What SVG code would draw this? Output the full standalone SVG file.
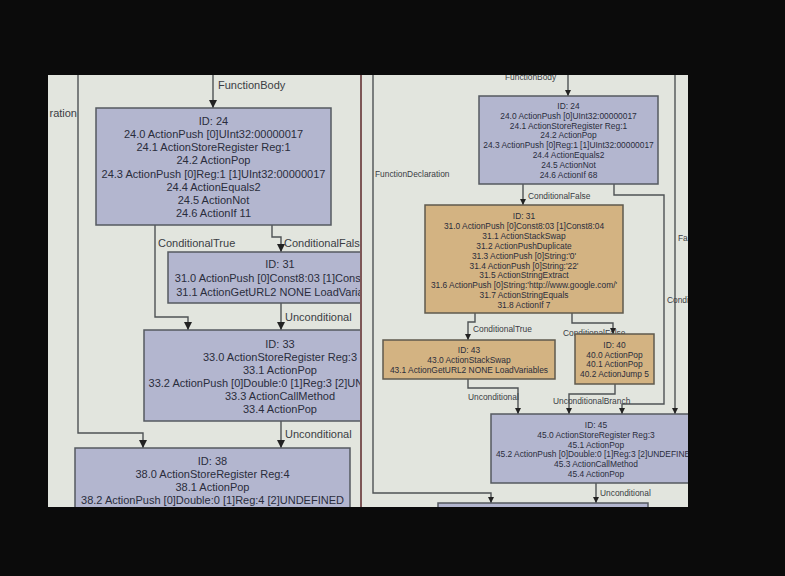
<svg xmlns="http://www.w3.org/2000/svg" width="785" height="576" viewBox="0 0 785 576">
<defs>
<style>
.bg{fill:#0b0b0b}
.scr{fill:#e2e5de}
.nb{fill:#b3b6cf;stroke:#555a60;stroke-width:1.5}
.nt{fill:#d3b382;stroke:#5f5a4e;stroke-width:1.5}
.e{fill:none;stroke:#4f5355;stroke-width:1.4}
.tL{font-family:"Liberation Sans",Arial,sans-serif;font-size:11px;fill:#2a2d3c;text-anchor:middle}
.tR{font-family:"Liberation Sans",Arial,sans-serif;font-size:8.4px;fill:#2a2d3c;text-anchor:middle}
.lL{font-family:"Liberation Sans",Arial,sans-serif;font-size:11px;fill:#3a3d44}
.lR{font-family:"Liberation Sans",Arial,sans-serif;font-size:8.4px;fill:#3a3d44}
</style>
<marker id="aL" viewBox="0 0 10 10" refX="10" refY="5" markerWidth="9" markerHeight="8" markerUnits="userSpaceOnUse" orient="auto"><path d="M0,0 L10,5 L0,10 z" fill="#222"/></marker>
<marker id="aR" viewBox="0 0 10 10" refX="10" refY="5" markerWidth="7" markerHeight="6" markerUnits="userSpaceOnUse" orient="auto"><path d="M0,0 L10,5 L0,10 z" fill="#222"/></marker>
<clipPath id="cL"><rect x="48" y="75" width="312" height="432"/></clipPath>
<clipPath id="cR"><rect x="362" y="75" width="326" height="432"/></clipPath>
</defs>
<rect class="bg" x="0" y="0" width="785" height="576"/>
<rect class="scr" x="48" y="75" width="640" height="432"/>

<g id="left-panel" clip-path="url(#cL)">
<g id="edges-left">
<path class="e" d="M213,75 V108" marker-end="url(#aL)"/>
<text class="lL" x="218" y="89">FunctionBody</text>
<path class="e" d="M155,225 V317 H188 V330" marker-end="url(#aL)"/>
<text class="lL" x="158" y="247">ConditionalTrue</text>
<path class="e" d="M272,225 V237 H281 V252" marker-end="url(#aL)"/>
<text class="lL" x="284" y="247">ConditionalFalse</text>
<path class="e" d="M281,303 V330" marker-end="url(#aL)"/>
<text class="lL" x="285" y="321">Unconditional</text>
<path class="e" d="M281,421 V448" marker-end="url(#aL)"/>
<text class="lL" x="285" y="438">Unconditional</text>
<path class="e" d="M78,75 V433 H143 V448" marker-end="url(#aL)"/>
<text class="lL" x="77" y="117" text-anchor="end">ration</text>
</g>
<g id="L24">
<rect class="nb" x="96" y="108" width="235" height="117"/>
<text class="tL" x="213.5" y="125">ID: 24</text>
<text class="tL" x="213.5" y="138.1">24.0 ActionPush [0]UInt32:00000017</text>
<text class="tL" x="213.5" y="151.3">24.1 ActionStoreRegister Reg:1</text>
<text class="tL" x="213.5" y="164.4">24.2 ActionPop</text>
<text class="tL" x="213.5" y="177.6">24.3 ActionPush [0]Reg:1 [1]UInt32:00000017</text>
<text class="tL" x="213.5" y="190.7">24.4 ActionEquals2</text>
<text class="tL" x="213.5" y="203.9">24.5 ActionNot</text>
<text class="tL" x="213.5" y="217">24.6 ActionIf 11</text>
</g>
<g id="L31">
<rect class="nb" x="168" y="252" width="224" height="51"/>
<text class="tL" x="280" y="268">ID: 31</text>
<text class="tL" x="280" y="282">31.0 ActionPush [0]Const8:03 [1]Const8:04</text>
<text class="tL" x="280" y="295.5">31.1 ActionGetURL2 NONE  LoadVariables</text>
</g>
<g id="L33">
<rect class="nb" x="144" y="330" width="272" height="91"/>
<text class="tL" x="280" y="348">ID: 33</text>
<text class="tL" x="280" y="361">33.0 ActionStoreRegister Reg:3</text>
<text class="tL" x="280" y="374">33.1 ActionPop</text>
<text class="tL" x="280" y="387">33.2 ActionPush [0]Double:0 [1]Reg:3 [2]UNDEFINED</text>
<text class="tL" x="280" y="400">33.3 ActionCallMethod</text>
<text class="tL" x="280" y="413">33.4 ActionPop</text>
</g>
<g id="L38">
<rect class="nb" x="75" y="448" width="275" height="90"/>
<text class="tL" x="212.5" y="465">ID: 38</text>
<text class="tL" x="212.5" y="478">38.0 ActionStoreRegister Reg:4</text>
<text class="tL" x="212.5" y="491">38.1 ActionPop</text>
<text class="tL" x="212.5" y="504">38.2 ActionPush [0]Double:0 [1]Reg:4 [2]UNDEFINED</text>
</g>
</g>

<line x1="361" y1="75" x2="361" y2="507" stroke="#7d5656" stroke-width="2"/>

<g id="right-panel" clip-path="url(#cR)">
<g id="edges-right">
<path class="e" d="M568,75 V96" marker-end="url(#aR)"/>
<text class="lR" x="505" y="80">FunctionBody</text>
<path class="e" d="M523,184 V205" marker-end="url(#aR)"/>
<text class="lR" x="528" y="199">ConditionalFalse</text>
<path class="e" d="M614,184 V195 H664 V404 H622 V414" marker-end="url(#aR)"/>
<path class="e" d="M675,75 V414" marker-end="url(#aR)"/>
<text class="lR" x="678" y="241">Fa</text>
<text class="lR" x="667" y="303">Condi</text>
<path class="e" d="M373,75 V493 H491 V503" marker-end="url(#aR)"/>
<text class="lR" x="375" y="177">FunctionDeclaration</text>
<path class="e" d="M475,313 V322 H468 V340" marker-end="url(#aR)"/>
<text class="lR" x="473" y="332">ConditionalTrue</text>
<text class="lR" x="563" y="336">ConditionalFalse</text>
<path class="e" d="M572,313 V323 H613 V334" marker-end="url(#aR)"/>
<path class="e" d="M468,379 V388 H518 V414" marker-end="url(#aR)"/>
<text class="lR" x="468" y="400">Unconditional</text>
<path class="e" d="M615,384 V394 H569 V414" marker-end="url(#aR)"/>
<text class="lR" x="553" y="404">UnconditionalBranch</text>
<path class="e" d="M596,483 V503" marker-end="url(#aR)"/>
<text class="lR" x="600" y="496">Unconditional</text>
</g>
<g id="R24">
<rect class="nb" x="479" y="96" width="179" height="88"/>
<text class="tR" x="568.5" y="109">ID: 24</text>
<text class="tR" x="568.5" y="118.8">24.0 ActionPush [0]UInt32:00000017</text>
<text class="tR" x="568.5" y="128.6">24.1 ActionStoreRegister Reg:1</text>
<text class="tR" x="568.5" y="138.4">24.2 ActionPop</text>
<text class="tR" x="568.5" y="148.2">24.3 ActionPush [0]Reg:1 [1]UInt32:00000017</text>
<text class="tR" x="568.5" y="158">24.4 ActionEquals2</text>
<text class="tR" x="568.5" y="167.8">24.5 ActionNot</text>
<text class="tR" x="568.5" y="177.6">24.6 ActionIf 68</text>
</g>
<g id="R31">
<rect class="nt" x="425" y="205" width="198" height="108"/>
<text class="tR" x="524" y="219">ID: 31</text>
<text class="tR" x="524" y="228.9">31.0 ActionPush [0]Const8:03 [1]Const8:04</text>
<text class="tR" x="524" y="238.8">31.1 ActionStackSwap</text>
<text class="tR" x="524" y="248.7">31.2 ActionPushDuplicate</text>
<text class="tR" x="524" y="258.6">31.3 ActionPush [0]String:'0'</text>
<text class="tR" x="524" y="268.5">31.4 ActionPush [0]String:'22'</text>
<text class="tR" x="524" y="278.4">31.5 ActionStringExtract</text>
<text class="tR" x="524" y="288.3">31.6 ActionPush [0]String:'http://www.google.com/'</text>
<text class="tR" x="524" y="298.2">31.7 ActionStringEquals</text>
<text class="tR" x="524" y="308.1">31.8 ActionIf 7</text>
</g>
<g id="R43">
<rect class="nt" x="383" y="340" width="172" height="39"/>
<text class="tR" x="469" y="353">ID: 43</text>
<text class="tR" x="469" y="363">43.0 ActionStackSwap</text>
<text class="tR" x="469" y="373">43.1 ActionGetURL2 NONE  LoadVariables</text>
</g>
<g id="R40">
<rect class="nt" x="575" y="334" width="79" height="50"/>
<text class="tR" x="614.5" y="348">ID: 40</text>
<text class="tR" x="614.5" y="357.5">40.0 ActionPop</text>
<text class="tR" x="614.5" y="367">40.1 ActionPop</text>
<text class="tR" x="614.5" y="376.5">40.2 ActionJump 5</text>
</g>
<g id="R45">
<rect class="nb" x="491" y="414" width="210" height="69"/>
<text class="tR" x="596" y="428">ID: 45</text>
<text class="tR" x="596" y="437.8">45.0 ActionStoreRegister Reg:3</text>
<text class="tR" x="596" y="447.6">45.1 ActionPop</text>
<text class="tR" x="596" y="457.4">45.2 ActionPush [0]Double:0 [1]Reg:3 [2]UNDEFINED</text>
<text class="tR" x="596" y="467.2">45.3 ActionCallMethod</text>
<text class="tR" x="596" y="477">45.4 ActionPop</text>
</g>
<g id="R-next">
<rect class="nb" x="438" y="503" width="210" height="30"/>
</g>
</g>
</svg>
